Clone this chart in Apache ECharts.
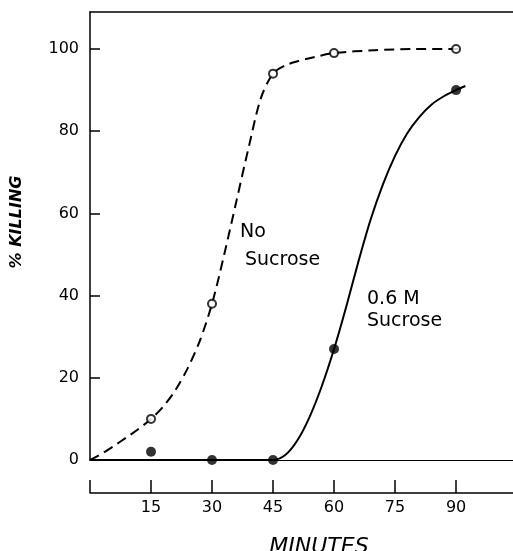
<!DOCTYPE html>
<html>
<head>
<meta charset="utf-8">
<script src="https://cdn.jsdelivr.net/npm/echarts@6/dist/echarts.min.js"></script>
<style>html,body{margin:0;padding:0;background:#fff;}#c{width:513px;height:551px;}</style>
</head>
<body>
<div id="c"></div>
<script>
// Measured points
const minutes = [15, 30, 45, 60, 90];
const noSucrose = [10, 38, 94, 99, 100];
const sucrose06 = [2, 0, 0, 27, 90];

// Hand-drawn fitted curves
const noSucroseCurveX = [0, 3, 6, 9, 12, 15, 18, 21, 24, 27, 30, 33, 36, 39, 42, 45, 48, 51, 55, 60, 70, 80, 92];
const noSucroseCurveY = [0, 1.6, 3.5, 5.5, 7.6, 10, 13, 17, 22.3, 29, 38, 50, 63, 76, 88, 94, 96, 97, 98, 99, 99.7, 100, 100];
const sucroseCurveX = [0, 45, 48, 51, 54, 57, 60, 63, 66, 69, 72, 75, 78, 81, 84, 87, 90, 92.3];
const sucroseCurveY = [0, 0, 1.2, 4.8, 10.5, 18, 27, 37.3, 48.3, 58.5, 67, 74, 79.5, 83.5, 86.5, 88.5, 90, 91];

const yTicks = [0, 20, 40, 60, 80, 100];
const xTicks = [0, 15, 30, 45, 60, 75, 90];
const xLabels = [15, 30, 45, 60, 75, 90];

const zip = (a, b) => a.map((v, i) => [v, b[i]]);
const FONT = 'DejaVu Sans';
const INK = '#000';
const chart = echarts.init(document.getElementById('c'), null, {renderer: 'canvas'});

chart.setOption({
  animation: false,
  backgroundColor: '#fff',
  grid: {left: 90, right: 0, top: 12, bottom: 91},
  xAxis: [
    {type: 'value', min: 0, max: 104, position: 'bottom',
     axisLine: {show: true, onZero: false, lineStyle: {color: INK, width: 1.2}},
     axisTick: {show: false}, axisLabel: {show: false}, splitLine: {show: false}},
    {type: 'value', min: 0, max: 104, interval: 15, position: 'bottom', offset: 33,
     axisLine: {show: true, onZero: false, lineStyle: {color: INK, width: 1.5}},
     axisTick: {show: true, inside: true, length: 13, customValues: xTicks, lineStyle: {color: INK, width: 1.5}},
     axisLabel: {show: true, customValues: xLabels, margin: 7, color: INK, fontFamily: FONT, fontSize: 16},
     splitLine: {show: false}},
    {type: 'value', min: 0, max: 104, position: 'top',
     axisLine: {show: true, onZero: false, lineStyle: {color: INK, width: 1.5}},
     axisTick: {show: false}, axisLabel: {show: false}, splitLine: {show: false}}
  ],
  yAxis: {
    type: 'value', min: 0, max: 109, interval: 20,
    axisLine: {show: true, onZero: false, lineStyle: {color: INK, width: 1.5}},
    axisTick: {show: true, inside: true, length: 10, customValues: yTicks, lineStyle: {color: INK, width: 1.5}},
    axisLabel: {customValues: yTicks, margin: 11, color: INK, fontFamily: FONT, fontSize: 16},
    splitLine: {show: false}
  },
  title: {
    text: 'MINUTES', left: 314, top: 531, textAlign: 'center',
    textStyle: {fontFamily: FONT, fontStyle: 'italic', fontWeight: 'normal', fontSize: 22, color: INK}
  },
  graphic: [
    {type: 'text', x: 17, y: 222, rotation: Math.PI / 2,
     style: {text: '% KILLING', fontFamily: FONT, fontStyle: 'italic', fontWeight: 'bold', fontSize: 16, fill: INK, align: 'center', verticalAlign: 'middle'}},
    {type: 'text', x: 240, y: 232,
     style: {text: 'No', fontFamily: FONT, fontSize: 19, fill: INK, align: 'left', verticalAlign: 'middle'}},
    {type: 'text', x: 245, y: 260,
     style: {text: 'Sucrose', fontFamily: FONT, fontSize: 19, fill: INK, align: 'left', verticalAlign: 'middle'}},
    {type: 'text', x: 367, y: 299,
     style: {text: '0.6 M', fontFamily: FONT, fontSize: 19, fill: INK, align: 'left', verticalAlign: 'middle'}},
    {type: 'text', x: 367, y: 321,
     style: {text: 'Sucrose', fontFamily: FONT, fontSize: 19, fill: INK, align: 'left', verticalAlign: 'middle'}}
  ],
  series: [
    {type: 'line', name: 'No Sucrose curve', data: zip(noSucroseCurveX, noSucroseCurveY),
     smooth: 0.3, showSymbol: false, silent: true,
     lineStyle: {color: INK, width: 2, type: [10, 6]}},
    {type: 'line', name: '0.6 M Sucrose curve', data: zip(sucroseCurveX, sucroseCurveY),
     smooth: 0.3, showSymbol: false, silent: true,
     lineStyle: {color: INK, width: 2}},
    {type: 'scatter', name: 'No Sucrose', data: zip(minutes, noSucrose),
     symbol: 'circle', symbolSize: 8, z: 5,
     itemStyle: {color: '#fff', borderColor: INK, borderWidth: 2}},
    {type: 'scatter', name: '0.6 M Sucrose', data: zip(minutes, sucrose06),
     symbol: 'circle', symbolSize: 10, z: 5,
     itemStyle: {color: INK}}
  ]
});
</script>
</body>
</html>
